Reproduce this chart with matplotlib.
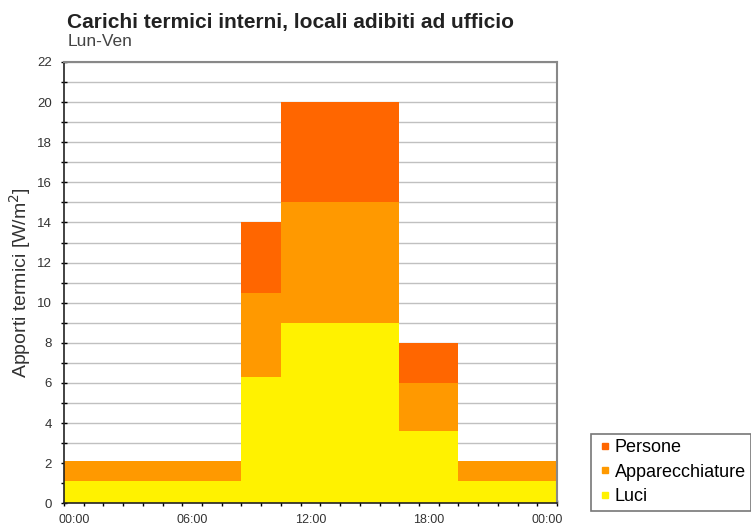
import numpy as np
import matplotlib.pyplot as plt
from matplotlib.lines import Line2D

plt.rcParams['font.family'] = ['Liberation Sans', 'DejaVu Sans']

# hourly categories 00:00 .. 24:00
hours = np.arange(25)
luci = [1.1] * 9 + [6.3] * 2 + [9.0] * 6 + [3.6] * 3 + [1.1] * 5
apparecchiature = [1.0] * 9 + [4.2] * 2 + [6.0] * 6 + [2.4] * 3 + [1.0] * 5
persone = [0] * 9 + [3.5] * 2 + [5.0] * 6 + [2.0] * 3 + [0] * 5
tick_labels = ["00:00", "06:00", "12:00", "18:00", "00:00"]

luci = np.array(luci)
apparecchiature = np.array(apparecchiature)
persone = np.array(persone)

fig = plt.figure(figsize=(7.51, 5.29), dpi=100)
ax = fig.add_axes([0.0852, 0.0486, 0.6565, 0.8342])

ax.bar(hours, luci, width=1.0, color="#FFF200", linewidth=0, label="Luci", zorder=2)
ax.bar(hours, apparecchiature, width=1.0, bottom=luci, color="#FF9900",
       linewidth=0, label="Apparecchiature", zorder=2)
ax.bar(hours, persone, width=1.0, bottom=luci + apparecchiature, color="#FF6600",
       linewidth=0, label="Persone", zorder=2)

ax.set_xlim(-0.5, 24.5)
ax.set_ylim(0, 22)

# y axis
ax.set_yticks(np.arange(0, 23, 2))
ax.set_yticks(np.arange(0, 23, 1), minor=True)
ax.yaxis.grid(True, which="both", color="#c0c0c0", linewidth=1.0, zorder=0)
ax.set_axisbelow(True)
ax.tick_params(axis="y", which="major", direction="inout", length=5, width=1,
               labelsize=9.5, labelcolor="#333333", pad=6)
ax.tick_params(axis="y", which="minor", direction="inout", length=4, width=1)

# x axis: labels in category centres, ticks at category boundaries
ax.set_xticks([0, 6, 12, 18, 24])
ax.set_xticklabels(tick_labels)
ax.set_xticks(np.arange(-0.5, 25, 1), minor=True)
ax.tick_params(axis="x", which="major", length=0, labelsize=9,
               labelcolor="#333333", pad=8)
ax.tick_params(axis="x", which="minor", direction="inout", length=4, width=1)

for s in ["left", "bottom"]:
    ax.spines[s].set_color("#222222")
    ax.spines[s].set_linewidth(1.2)
for s in ["top", "right"]:
    ax.spines[s].set_color("#888888")
    ax.spines[s].set_linewidth(1.5)

ax.set_ylabel("Apporti termici [W/m$^2$]", fontsize=14, color="#333333", labelpad=3)

fig.text(0.089, 0.958, "Carichi termici interni, locali adibiti ad ufficio",
         fontsize=15, fontweight="bold", color="#222222", va="center")
fig.text(0.09, 0.921, "Lun-Ven", fontsize=12.5, color="#444444", va="center")

handles = [Line2D([], [], marker="s", linestyle="none", markersize=5,
                  color="#FF6600", label="Persone"),
           Line2D([], [], marker="s", linestyle="none", markersize=5,
                  color="#FF9900", label="Apparecchiature"),
           Line2D([], [], marker="s", linestyle="none", markersize=5,
                  color="#FFF200", label="Luci")]
leg = fig.legend(handles=handles, loc="upper left", bbox_to_anchor=(0.787, 0.18),
                 fontsize=13, frameon=True, fancybox=False, handlelength=1.0,
                 handletextpad=0.0, labelspacing=0.42, borderpad=0.3,
                 borderaxespad=0)
leg.get_frame().set_edgecolor("#555555")
leg.get_frame().set_linewidth(1.2)

fig.savefig("out.png", dpi=100)
